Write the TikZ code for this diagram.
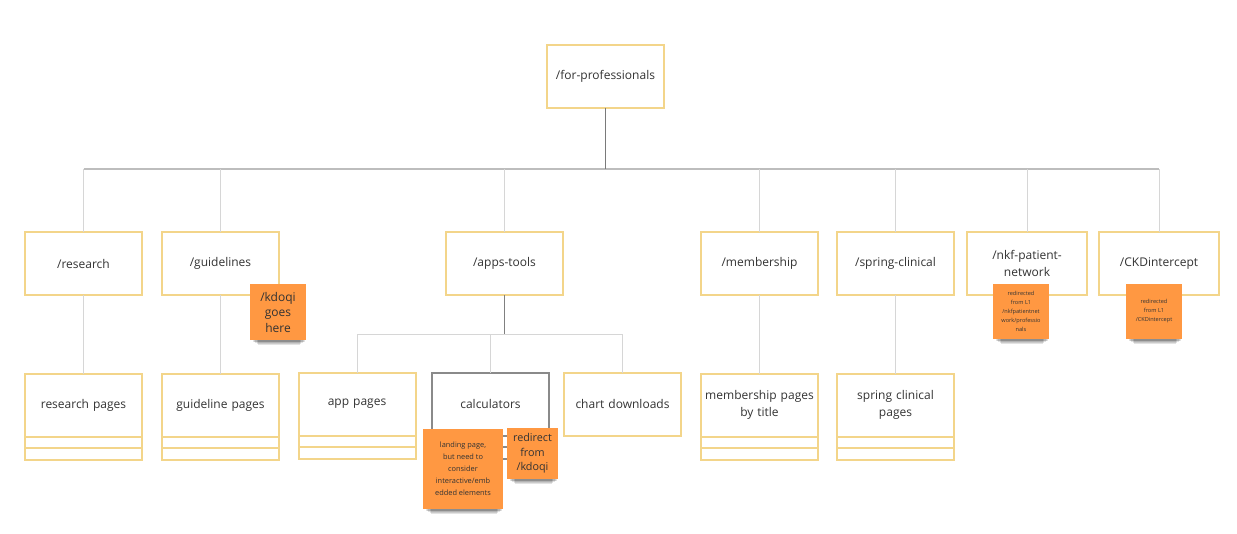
\documentclass[tikz,border=0pt]{standalone}
\usepackage{fontspec}
\setmainfont{Open Sans}
\usetikzlibrary{calc}
\definecolor{ybord}{HTML}{F3D58A}
\definecolor{gbord}{HTML}{8A8A8A}
\definecolor{txt}{HTML}{333333}
\definecolor{stick}{HTML}{FF9842}
\definecolor{lconn}{HTML}{D6D6D6}
\definecolor{mconn}{HTML}{BDBDBD}
\definecolor{dconn}{HTML}{7A7A7A}
\tikzset{
  page/.style={draw=ybord, line width=2pt, outer sep=0pt, fill=white, minimum width=117pt, minimum height=63pt, inner sep=2pt, text width=113pt, align=center, text=txt, font=\fontsize{12}{16.5}\selectfont},
  graypage/.style={page, draw=gbord},
  strip/.style={draw=ybord, line width=2pt, fill=white},
  graystrip/.style={strip, draw=gbord},
  note/.style={fill=stick, inner sep=0pt, outer sep=0pt, align=center, text=txt},
  conn/.style={draw=lconn, line width=1pt},
  bus/.style={draw=mconn, line width=1.2pt},
  stem/.style={draw=dconn, line width=1.5pt},
  shadowpiece/.style={fill=black, opacity=0.11},
}
\newcommand{\pagestrips}[2]{%
  \draw[#2] (#1.south west) rectangle ($(#1.south east)+(0,11.5)$);
  \draw[#2] ($(#1.south west)+(0,11.5)$) rectangle ($(#1.south east)+(0,23)$);
}
% \sticky{name}{x}{y}{w}{h}{font}{text}
\newcommand{\sticky}[7]{%
  \foreach \i in {0,1,2,3,4}{%
    \fill[shadowpiece] ({#2-#4/2+3+\i*1.2},{#3+#5/2-4}) rectangle ({#2+#4/2-1-\i*1.2},{#3+#5/2+1.5+\i*0.9});
  }
  \node[note, minimum width=#4pt, minimum height=#5pt, font=#6] (#1) at (#2,#3) {#7};
}
\begin{document}
\begin{tikzpicture}[x=1pt,y=-1pt]
\useasboundingbox[fill=white] (0,0) rectangle (1237,533);
% root
\node[page] (root) at (605.5,76) {/for-professionals};
% level 1
\node[page] (research) at (83.5,263.5) {/research};
\node[page] (guidelines) at (220.5,263.5) {/guidelines};
\node[page] (apps) at (504.5,263.5) {/apps-tools};
\node[page] (membership) at (759.5,263.5) {/membership};
\node[page] (spring) at (895.5,263.5) {/spring-clinical};
\node[page, minimum width=120pt] (nkf) at (1027,263.5) {/nkf-patient-\\network};
\node[page, minimum width=120pt] (ckd) at (1159,263.5) {/CKDintercept};
% bus
\coordinate (bus) at (605.5,169);
\coordinate (busl) at (83.5,169);
\coordinate (busr) at (1159,169);
\draw[bus] (busl) -- (busr);
\draw[stem] (root.south) -- (bus);
\foreach \n in {research,guidelines,apps,membership,spring,nkf,ckd}{
  \draw[conn] (\n.north |- bus) -- (\n.north);
}
% level 2
\node[page] (rpages) at (83.5,405) {research pages};
\node[page] (gpages) at (220.5,405) {guideline pages};
\node[page] (apages) at (357,404) {app pages};
\node[graypage] (calc) at (490.5,404) {calculators};
\node[page] (chart) at (622.5,404) {chart downloads};
\node[page] (mpages) at (759.5,405) {membership pages\\by title};
\node[page] (spages) at (895.5,405) {spring clinical\\pages};
\pagestrips{rpages}{strip}
\pagestrips{gpages}{strip}
\pagestrips{apages}{strip}
\pagestrips{calc}{graystrip}
\pagestrips{mpages}{strip}
\pagestrips{spages}{strip}
\draw[conn] (research.south) -- (rpages.north);
\draw[conn] (guidelines.south) -- (gpages.north);
\draw[conn] (membership.south) -- (mpages.north);
\draw[conn] (spring.south) -- (spages.north);
% apps sub tree
\coordinate (abus) at (504.5,334);
\draw[stem, line width=1.2pt, draw=gray] (apps.south) -- (abus);
\draw[conn] (abus) -| (apages.north);
\draw[conn] (abus) -| (chart.north);
\draw[conn] (calc.north |- abus) -- (calc.north);
% sticky notes
\sticky{n1}{278}{312}{56}{56}{\fontsize{12}{15.5}\selectfont}{/kdoqi\\goes\\here}
\sticky{n2}{463}{469}{80}{80}{\fontsize{7.4}{12}\selectfont}{landing page,\\but need to\\consider\\interactive/emb\\edded elements}
\sticky{n3}{532.5}{453.5}{51}{51}{\fontsize{10.8}{14.5}\selectfont}{redirect\\from\\/kdoqi}
\sticky{n4}{1021}{311.5}{56}{55}{\fontsize{5.6}{9}\selectfont}{redirected\\from L1\\/nkfpatientnet\\work/professio\\nals}
\sticky{n5}{1154}{311.5}{56}{55}{\fontsize{5.6}{9}\selectfont}{redirected\\from L1\\/CKDintercept}
\end{tikzpicture}
\end{document}
